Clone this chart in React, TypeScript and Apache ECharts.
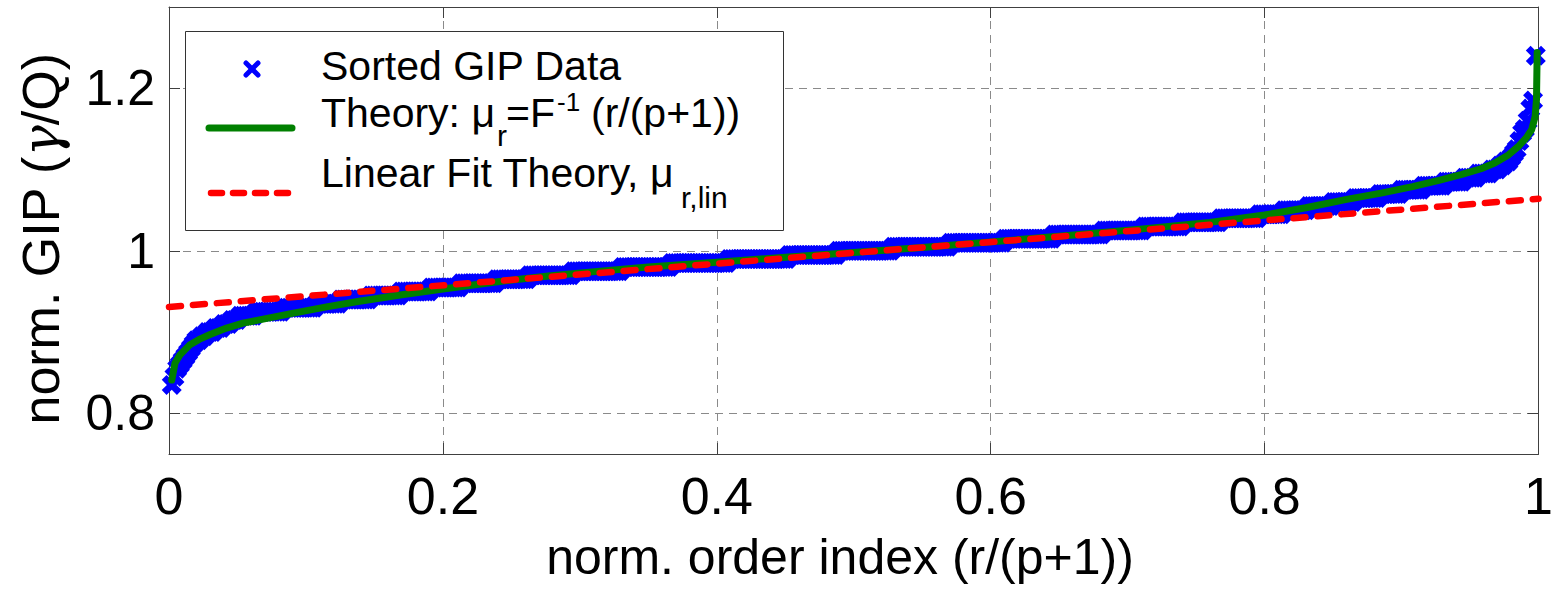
import React, { useEffect, useRef } from "react";
import * as echarts from "echarts";

// Sorted GIP data, run-length encoded: value levels and how many sorted samples sit on each level
const gipLevels = [
  0.835, 0.845, 0.855, 0.86, 0.865, 0.87, 0.875, 0.88, 0.885, 0.89,
  0.895, 0.9, 0.905, 0.91, 0.915, 0.92, 0.925, 0.93, 0.935, 0.94,
  0.945, 0.95, 0.955, 0.96, 0.965, 0.97, 0.975, 0.98, 0.985, 0.99,
  0.995, 1.0, 1.005, 1.01, 1.015, 1.02, 1.025, 1.03, 1.035, 1.04,
  1.045, 1.05, 1.055, 1.06, 1.065, 1.07, 1.075, 1.08, 1.085, 1.09,
  1.095, 1.1, 1.105, 1.11, 1.115, 1.12, 1.125, 1.135, 1.145, 1.15,
  1.16, 1.175, 1.185, 1.24,
];
const gipCounts = [
  1, 1, 1, 1, 1, 1, 1, 1, 1, 2,
  2, 3, 3, 3, 3, 6, 10, 12, 9, 11,
  11, 11, 11, 13, 12, 16, 18, 18, 21, 22,
  18, 20, 21, 20, 18, 18, 15, 14, 14, 14,
  9, 9, 9, 8, 9, 8, 8, 8, 7, 5,
  5, 3, 2, 2, 1, 1, 1, 1, 1, 1,
  1, 1, 1, 1,
];

// Theory curve mu_r = F^-1(r/(p+1))
const theoryX = [
  0.002, 0.0044, 0.008, 0.015, 0.022, 0.03, 0.042, 0.054, 0.066, 0.09,
  0.115, 0.139, 0.17, 0.2, 0.24, 0.277, 0.315, 0.35, 0.4, 0.45,
  0.5, 0.55, 0.6, 0.665, 0.711, 0.76, 0.8, 0.83, 0.859, 0.885,
  0.908, 0.928, 0.944, 0.958, 0.968, 0.978, 0.985, 0.991, 0.995, 0.9975,
  0.9985, 0.999,
];
const theoryY = [
  0.841, 0.862, 0.872, 0.884, 0.891, 0.897, 0.905, 0.911, 0.915, 0.923,
  0.931, 0.938, 0.946, 0.953, 0.962, 0.969, 0.975, 0.98, 0.986, 0.992,
  0.998, 1.004, 1.011, 1.02, 1.027, 1.035, 1.044, 1.053, 1.063, 1.071,
  1.079, 1.087, 1.094, 1.101, 1.108, 1.118, 1.128, 1.139, 1.149, 1.165,
  1.186, 1.244,
];

// Linear fit theory
const linX = [0, 1];
const linY = [0.931, 1.064];

const xTicks = [0, 0.2, 0.4, 0.6, 0.8, 1];
const yTicks = [0.8, 1, 1.2];

const FONT = "'Liberation Sans', Arial, sans-serif";
const FRAME = "#404040";
const GRID = "#8a8a8a";

const X_SYMBOL =
  "path://M2.4,0 L5,2.6 L7.6,0 L10,2.4 L7.4,5 L10,7.6 L7.6,10 L5,7.4 L2.4,10 L0,7.6 L2.6,5 L0,2.4 Z";

export default function App() {
  const ref = useRef<HTMLDivElement>(null);

  useEffect(() => {
    if (!ref.current) return;
    const chart = echarts.init(ref.current, undefined, { renderer: "svg" });

    const sorted: number[] = [];
    gipLevels.forEach((v, i) => {
      for (let k = 0; k < gipCounts[i]; k++) sorted.push(v);
    });
    const N = sorted.length;
    const scatterData = sorted.map((v, i) => [(i + 1) / (N + 1), v]);
    const theoryData = theoryX.map((x, i) => [x, theoryY[i]]);
    const linData = linX.map((x, i) => [x, linY[i]]);

    const fmt = (v: number) => String(Math.round(v * 10) / 10);

    const axisCommonX = {
      type: "value" as const,
      min: 0,
      max: 1,
      interval: 0.2,
      axisLine: { show: true, onZero: false, lineStyle: { color: FRAME, width: 1 } },
      axisTick: { show: true, inside: true, length: 11, lineStyle: { color: FRAME, width: 1 } },
    };
    const axisCommonY = {
      type: "value" as const,
      min: 0.75,
      max: 1.3,
      axisLine: { show: true, onZero: false, lineStyle: { color: FRAME, width: 1 } },
      axisTick: {
        show: true,
        inside: true,
        length: 11,
        customValues: yTicks,
        lineStyle: { color: FRAME, width: 1 },
      },
    };

    const txt = (text: string, x: number, y: number, size: number) => ({
      type: "text",
      x,
      y,
      z: 102,
      silent: true,
      style: {
        text,
        fill: "#000",
        fontSize: size,
        fontFamily: FONT,
        textAlign: "left",
        textVerticalAlign: "middle",
        verticalAlign: "middle",
      },
    });
    const seg = (x1: number, y1: number, x2: number, y2: number, style: any) => ({
      type: "line",
      z: 101,
      silent: true,
      shape: { x1, y1, x2, y2 },
      style,
    });

    chart.setOption({
      animation: false,
      backgroundColor: "#fff",
      textStyle: { fontFamily: FONT },
      grid: { left: 169, right: 12, top: 7, bottom: 136, show: false },
      xAxis: [
        {
          ...axisCommonX,
          position: "bottom",
          axisLabel: {
            show: true,
            margin: 16,
            fontSize: 52,
            color: "#000",
            fontFamily: FONT,
            formatter: fmt,
            customValues: xTicks,
          },
          splitLine: { show: true, lineStyle: { color: GRID, width: 1, type: [8, 6] } },
        },
        {
          ...axisCommonX,
          position: "top",
          axisLabel: { show: false },
          splitLine: { show: false },
        },
      ],
      yAxis: [
        {
          ...axisCommonY,
          position: "left",
          axisLabel: {
            show: true,
            margin: 14,
            fontSize: 50,
            color: "#000",
            fontFamily: FONT,
            formatter: fmt,
            customValues: yTicks,
          },
          splitLine: { show: true, lineStyle: { color: GRID, width: 1, type: [8, 6] } },
        },
        {
          ...axisCommonY,
          position: "right",
          axisLabel: { show: false },
          splitLine: { show: false },
        },
      ],
      series: [
        {
          name: "Sorted GIP Data",
          type: "scatter",
          xAxisIndex: 0,
          yAxisIndex: 0,
          data: scatterData,
          symbol: X_SYMBOL,
          symbolSize: 20,
          itemStyle: { color: "#0000ff", opacity: 1 },
          clip: false,
          z: 2,
          silent: true,
        },
        {
          name: "Theory",
          type: "line",
          xAxisIndex: 0,
          yAxisIndex: 0,
          data: theoryData,
          showSymbol: false,
          symbol: "none",
          lineStyle: { color: "#008000", width: 7, cap: "round", join: "round" },
          z: 3,
          silent: true,
        },
        {
          name: "Linear Fit Theory",
          type: "line",
          xAxisIndex: 0,
          yAxisIndex: 0,
          data: linData,
          showSymbol: false,
          symbol: "none",
          lineStyle: { color: "#ff0000", width: 6.5, type: [12, 12], cap: "round" },
          z: 4,
          silent: true,
        },
      ],
      graphic: [
        {
          type: "rect",
          z: 100,
          silent: true,
          shape: { x: 185.5, y: 31.5, width: 598, height: 199 },
          style: { fill: "#fff", stroke: "#333", lineWidth: 1 },
        },
        seg(246, 63, 258, 75, { stroke: "#0000ff", lineWidth: 5, lineCap: "round" }),
        seg(258, 63, 246, 75, { stroke: "#0000ff", lineWidth: 5, lineCap: "round" }),
        seg(209, 128, 292, 128, { stroke: "#008000", lineWidth: 7, lineCap: "round" }),
        seg(211, 193, 292, 193, {
          stroke: "#ff0000",
          lineWidth: 6.5,
          lineCap: "round",
          lineDash: [11, 11],
        }),
        txt("Sorted GIP Data", 321, 66, 41),
        txt("Theory: μ", 321, 113, 41),
        txt("r", 497, 135, 30),
        txt("=F", 506, 113, 41),
        txt("-1", 557, 102, 26),
        txt("(r/(p+1))", 591, 113, 41),
        txt("Linear Fit Theory, μ", 321, 173, 41),
        txt("r,lin", 681, 197, 30),
        {
          type: "text",
          x: 840,
          y: 557,
          z: 102,
          silent: true,
          style: {
            text: "norm. order index (r/(p+1))",
            fill: "#000",
            fontSize: 50,
            fontFamily: FONT,
            textAlign: "center",
            textVerticalAlign: "middle",
            verticalAlign: "middle",
          },
        },
        {
          type: "text",
          x: 41,
          y: 239,
          z: 102,
          rotation: Math.PI / 2,
          silent: true,
          style: {
            text: "{a|norm. GIP (}{g|γ}{a|/Q)}",
            fill: "#000",
            fontSize: 52,
            fontFamily: FONT,
            textAlign: "center",
            textVerticalAlign: "middle",
            verticalAlign: "middle",
            rich: {
              a: { fontSize: 52, fontFamily: FONT, fill: "#000", color: "#000" },
              g: {
                fontSize: 52,
                fontFamily: "'DejaVu Serif', serif",
                fontStyle: "italic",
                fill: "#000",
                color: "#000",
              },
            },
          },
        },
      ],
    });

    return () => chart.dispose();
  }, []);

  return (
    <div
      ref={ref}
      style={{ position: "fixed", left: 0, top: 0, width: 1556, height: 590, background: "#fff" }}
    />
  );
}
